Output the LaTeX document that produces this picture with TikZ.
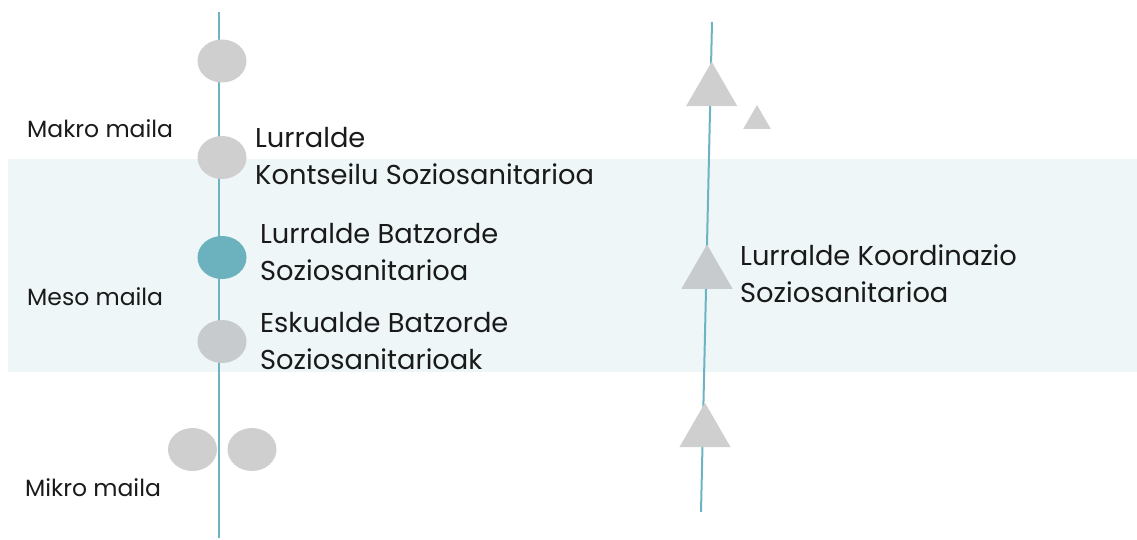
\documentclass[tikz,border=0pt]{standalone}
\usepackage{fontspec}
\setmainfont{Poppins}
\usetikzlibrary{shapes.geometric}
\definecolor{band}{HTML}{EEF6F8}
\definecolor{axis}{HTML}{6DB4C3}
\definecolor{dotgray}{HTML}{D0CFD0}
\definecolor{dotgraytwo}{HTML}{C8CBCE}
\definecolor{dotteal}{HTML}{6BB1BE}
\definecolor{txt}{HTML}{1A1A1A}
\tikzset{
  dot/.style={ellipse, draw=none, fill=dotgray, minimum width=49pt, minimum height=43pt, inner sep=0pt},
  tri/.style={regular polygon, regular polygon sides=3, draw=none, fill=dotgray, inner sep=0pt, minimum size=59pt},
  smalltri/.style={tri, minimum size=32pt},
  axisline/.style={draw=axis, line width=2pt},
  biglabel/.style={anchor=base west, align=left, inner sep=0pt, text=txt, font=\fontsize{27.3}{37}\selectfont},
  levellabel/.style={anchor=base west, inner sep=0pt, text=txt, font=\fontsize{23.5}{28}\selectfont},
}
\begin{document}
\begin{tikzpicture}[x=1pt,y=-1pt]
\useasboundingbox (0,0) rectangle (1137,540);
\fill[band] (8,159) rectangle (1137,372);
% axes
\coordinate (ltop) at (219,12);
\coordinate (lbot) at (219,538);
\coordinate (rtop) at (712,22);
\coordinate (rbot) at (701,512);
\draw[axisline] (ltop) -- (lbot);
\draw[axisline] (rtop) -- (rbot);
% left dots
\node[dot] (c1) at (222,61) {};
\node[dot] (c2) at (222,157.5) {};
\node[dot, fill=dotteal] (c3) at (222,257.5) {};
\node[dot, fill=dotgraytwo] (c4) at (222,341.5) {};
\node[dot] (c5) at (192.5,449.5) {};
\node[dot] (c6) at (252,449.5) {};
% right triangles
\node[tri] (t1) at (711.7,91.3) {};
\node[smalltri] (t2) at (757,121) {};
\node[tri, fill=dotgraytwo] (t3) at (707,274) {};
\node[tri] (t4) at (705,432.3) {};
% labels
\node[levellabel] (makro) at (27,138) {Makro maila};
\node[levellabel] (meso) at (27,305) {Meso maila};
\node[levellabel] (mikro) at (25,496) {Mikro maila};
\node[biglabel] (l1) at (255,185) {Lurralde\\Kontseilu Soziosanitarioa};
\node[biglabel] (l2) at (260,280) {Lurralde Batzorde\\Soziosanitarioa};
\node[biglabel] (l3) at (260,369) {Eskualde Batzorde\\Soziosanitarioak};
\node[biglabel] (l4) at (740,302) {Lurralde Koordinazio\\Soziosanitarioa};
\end{tikzpicture}
\end{document}
